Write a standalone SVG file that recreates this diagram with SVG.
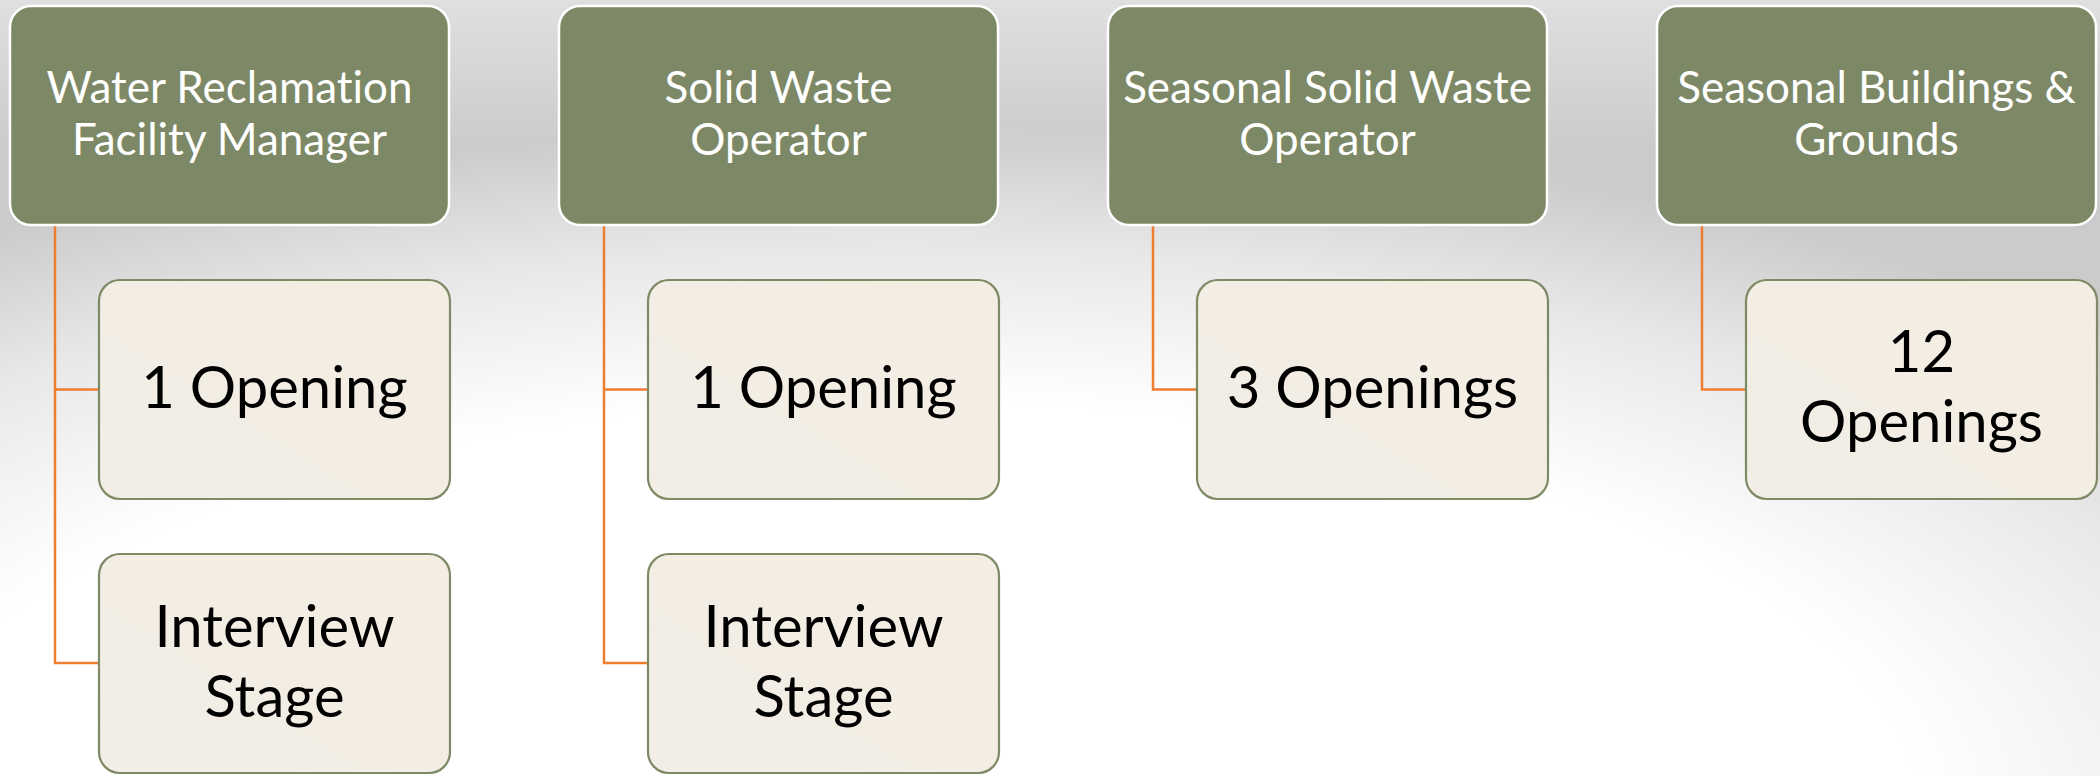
<svg xmlns="http://www.w3.org/2000/svg" width="2100" height="776" viewBox="0 0 2100 776">
<defs>
<radialGradient id="bg" cx="900" cy="820" r="1700" gradientUnits="userSpaceOnUse" gradientTransform="translate(900 820) scale(1 0.41) translate(-900 -820)">
<stop offset="0" stop-color="#ffffff"/>
<stop offset="0.6" stop-color="#ffffff"/>
<stop offset="0.82" stop-color="#e8e8e8"/>
<stop offset="1" stop-color="#cbcbcb"/>
</radialGradient>
<linearGradient id="topglow" x1="0" y1="0" x2="0" y2="1">
<stop offset="0" stop-color="#ffffff" stop-opacity="0.4"/>
<stop offset="1" stop-color="#ffffff" stop-opacity="0"/>
</linearGradient>
<linearGradient id="cream" x1="0" y1="1" x2="1" y2="0">
<stop offset="0" stop-color="#F2EEE6"/>
<stop offset="1" stop-color="#F4EDE2"/>
</linearGradient>
</defs>
<style>
.top{fill:#7D8966;stroke:#ffffff;stroke-width:2.5}
.child{fill:url(#cream);stroke:#7D8A65;stroke-width:2.2}
text{font-variant-ligatures:none;font-feature-settings:"liga" 0}
.tt{font-family:Lato,"Liberation Sans",sans-serif;font-size:44px;fill:#ffffff;text-anchor:middle}
.ct{font-family:Lato,"Liberation Sans",sans-serif;font-size:58px;fill:#000000;text-anchor:middle}
.conn{fill:none;stroke:#ED7D31;stroke-width:2.5}
</style>
<rect x="0" y="0" width="2100" height="776" fill="url(#bg)"/>
<rect x="0" y="0" width="2100" height="150" fill="url(#topglow)"/>
<g id="connectors">
<path class="conn" d="M55 225 V663 H99 M55 389.5 H99"/>
<path class="conn" d="M604 225 V663 H648 M604 389.5 H648"/>
<path class="conn" d="M1153 225 V389.5 H1197"/>
<path class="conn" d="M1702 225 V389.5 H1746"/>
</g>
<g id="n1">
<rect class="top" x="10" y="6" width="439" height="219" rx="21"/>
<text class="tt" x="229.5" y="103">Water Reclamation</text>
<text class="tt" x="229.5" y="155">Facility Manager</text>
</g>
<g id="n2">
<rect class="top" x="559" y="6" width="439" height="219" rx="21"/>
<text class="tt" x="778.5" y="103">Solid Waste</text>
<text class="tt" x="778.5" y="155">Operator</text>
</g>
<g id="n3">
<rect class="top" x="1108" y="6" width="439" height="219" rx="21"/>
<text class="tt" x="1327.5" y="103">Seasonal Solid Waste</text>
<text class="tt" x="1327.5" y="155">Operator</text>
</g>
<g id="n4">
<rect class="top" x="1657" y="6" width="439" height="219" rx="21"/>
<text class="tt" x="1876.5" y="103">Seasonal Buildings &amp;</text>
<text class="tt" x="1876.5" y="155">Grounds</text>
</g>
<g id="n1a">
<rect class="child" x="99" y="280" width="351" height="219" rx="21"/>
<text class="ct" x="274.5" y="408">1 Opening</text>
</g>
<g id="n1b">
<rect class="child" x="99" y="554" width="351" height="219" rx="21"/>
<text class="ct" x="274.5" y="647">Interview</text>
<text class="ct" x="274.5" y="717">Stage</text>
</g>
<g id="n2a">
<rect class="child" x="648" y="280" width="351" height="219" rx="21"/>
<text class="ct" x="823.5" y="408">1 Opening</text>
</g>
<g id="n2b">
<rect class="child" x="648" y="554" width="351" height="219" rx="21"/>
<text class="ct" x="823.5" y="647">Interview</text>
<text class="ct" x="823.5" y="717">Stage</text>
</g>
<g id="n3a">
<rect class="child" x="1197" y="280" width="351" height="219" rx="21"/>
<text class="ct" x="1372.5" y="408">3 Openings</text>
</g>
<g id="n4a">
<rect class="child" x="1746" y="280" width="351" height="219" rx="21"/>
<text class="ct" x="1921.5" y="372">12</text>
<text class="ct" x="1921.5" y="442">Openings</text>
</g>
</svg>
